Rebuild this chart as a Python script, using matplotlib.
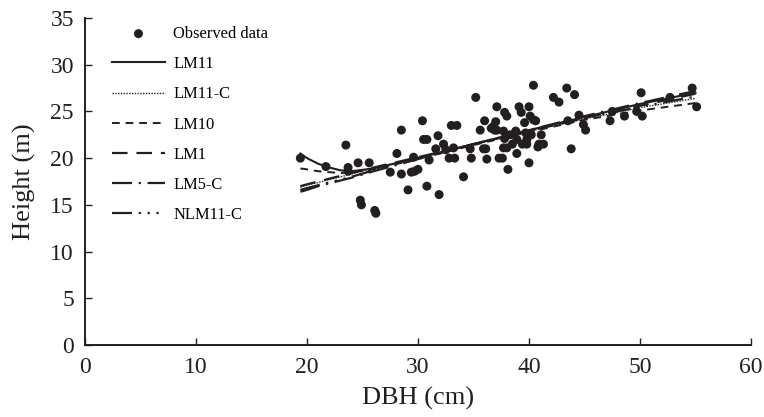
import numpy as np
import matplotlib
matplotlib.use("Agg")
import matplotlib.pyplot as plt

plt.rcParams['font.family'] = ['Liberation Serif', 'DejaVu Serif']

# observed trees: DBH (cm) and height (m)
dbh_obs = [19.4, 21.7, 23.5, 23.7, 24.6, 25.6, 24.8, 24.9, 26.1, 26.2,
           27.5, 28.1, 28.5, 28.5, 29.1, 29.4, 29.7, 30.0, 29.6, 30.4,
           30.5, 30.8, 30.8, 31.0, 31.6, 31.8, 32.3, 32.5, 31.9, 32.8,
           33.3, 33.0, 33.5, 33.2, 34.1, 34.7, 34.8, 35.2, 35.6, 35.9,
           36.1, 36.0, 36.2, 36.8, 37.0, 37.1, 37.1, 37.3, 37.7, 37.8,
           38.3, 38.8, 38.9, 39.7, 39.8, 40.2, 41.1, 40.9, 40.8, 41.3,
           37.7, 38.0, 38.5, 39.4, 39.8, 37.6, 38.9, 38.1, 40.0, 40.4,
           43.4, 44.1, 42.2, 42.7, 37.8, 38.0, 39.1, 39.3, 40.0, 40.1,
           40.4, 40.6, 39.6, 43.8, 44.5, 43.5, 44.9, 45.1, 50.1, 54.7,
           52.7, 55.1, 47.5, 48.6, 49.7, 50.2, 47.3, 36.6, 36.9, 23.7]
h_obs = [20.0, 19.1, 21.4, 19.0, 19.5, 19.5, 15.5, 15.0, 14.4, 14.1,
         18.5, 20.5, 23.0, 18.3, 16.6, 18.5, 18.6, 18.8, 20.1, 24.0,
         22.0, 22.0, 17.0, 19.8, 21.0, 22.4, 21.5, 20.9, 16.1, 20.0,
         20.0, 23.5, 23.5, 21.1, 18.0, 21.0, 20.0, 26.5, 23.0, 21.0,
         21.0, 24.0, 19.9, 23.4, 23.9, 23.0, 25.5, 20.0, 22.9, 22.1,
         22.5, 22.9, 22.0, 22.7, 22.0, 22.5, 22.5, 21.5, 21.2, 21.5,
         21.1, 21.1, 21.5, 21.5, 21.5, 20.0, 20.5, 18.8, 19.5, 27.8,
         27.5, 26.8, 26.5, 26.0, 24.9, 24.5, 25.5, 24.9, 25.5, 24.5,
         24.1, 24.0, 23.8, 21.0, 24.6, 24.0, 23.6, 23.0, 27.0, 27.5,
         26.5, 25.5, 25.0, 24.5, 25.0, 24.5, 24.0, 23.2, 23.0, 18.6]

# fitted model curves
dbh_fit = [19.4, 20, 21, 22, 23, 24, 26, 30, 35, 40, 45, 50, 55]
lm11 = [20.5, 20.0, 19.4, 19.0, 18.7, 18.6, 18.9, 20.0, 21.5, 23.0, 24.4, 25.8, 27.0]
lm11_c = [16.9, 17.1, 17.4, 17.7, 18.0, 18.3, 18.9, 20.1, 21.5, 22.9, 24.2, 25.4, 26.4]
lm10 = [18.9, 18.8, 18.6, 18.5, 18.4, 18.5, 18.8, 19.9, 21.4, 22.8, 24.1, 25.1, 25.9]
lm1 = [17.0, 17.2, 17.5, 17.8, 18.1, 18.4, 19.0, 20.1, 21.5, 22.9, 24.3, 25.6, 26.9]
lm5_c = [16.4, 16.6, 17.0, 17.3, 17.6, 17.9, 18.6, 19.9, 21.5, 23.0, 24.5, 25.9, 27.2]
nlm11_c = [16.6, 16.8, 17.1, 17.4, 17.7, 18.0, 18.7, 20.0, 21.5, 22.9, 24.3, 25.5, 26.6]

ink = '#231f20'

fig = plt.figure(figsize=(7.64, 4.17), dpi=100)
ax = fig.add_axes([0.1113, 0.1727, 0.8717, 0.7841])

ax.scatter(dbh_obs, h_obs, s=42, color=ink, edgecolors='none', label='Observed data', zorder=3)
ax.plot(dbh_fit, lm11, color=ink, lw=1.5, ls='-', label='LM11')
ax.plot(dbh_fit, lm11_c, color=ink, lw=1.0, ls=(0, (1, 1)), label='LM11-C')
ax.plot(dbh_fit, lm10, color=ink, lw=1.4, ls=(0, (4, 3)), label='LM10')
ax.plot(dbh_fit, lm1, color=ink, lw=1.6, ls=(0, (7, 4)), label='LM1')
ax.plot(dbh_fit, lm5_c, color=ink, lw=1.6, ls=(0, (9, 3, 1, 3)), label='LM5-C')
ax.plot(dbh_fit, nlm11_c, color=ink, lw=1.6, ls=(0, (9, 3, 1, 3, 1, 3, 1, 3)), label='NLM11-C')

ax.set_xlim(0, 60)
ax.set_ylim(0, 35)
ax.set_xticks(range(0, 61, 10))
ax.set_yticks(range(0, 36, 5))
ax.spines['top'].set_visible(False)
ax.spines['right'].set_visible(False)
for s in ['left', 'bottom']:
    ax.spines[s].set_linewidth(1.4)
    ax.spines[s].set_color(ink)
ax.tick_params(direction='in', length=5, width=1, colors=ink, labelsize=17)
ax.tick_params(axis='x', pad=9)
ax.tick_params(axis='y', pad=8)

ax.set_xlabel('DBH (cm)', fontsize=19, color=ink, labelpad=6)
ax.set_ylabel('Height (m)', fontsize=19, color=ink, labelpad=10)

ax.legend(loc='upper left', bbox_to_anchor=(112 / 764, 1 - 26 / 417),
          bbox_transform=fig.transFigure, frameon=False, fontsize=11.9,
          handlelength=3.2, handletextpad=0.5, labelspacing=0.86,
          borderpad=0, borderaxespad=0)

fig.savefig('out.png', dpi=100)
